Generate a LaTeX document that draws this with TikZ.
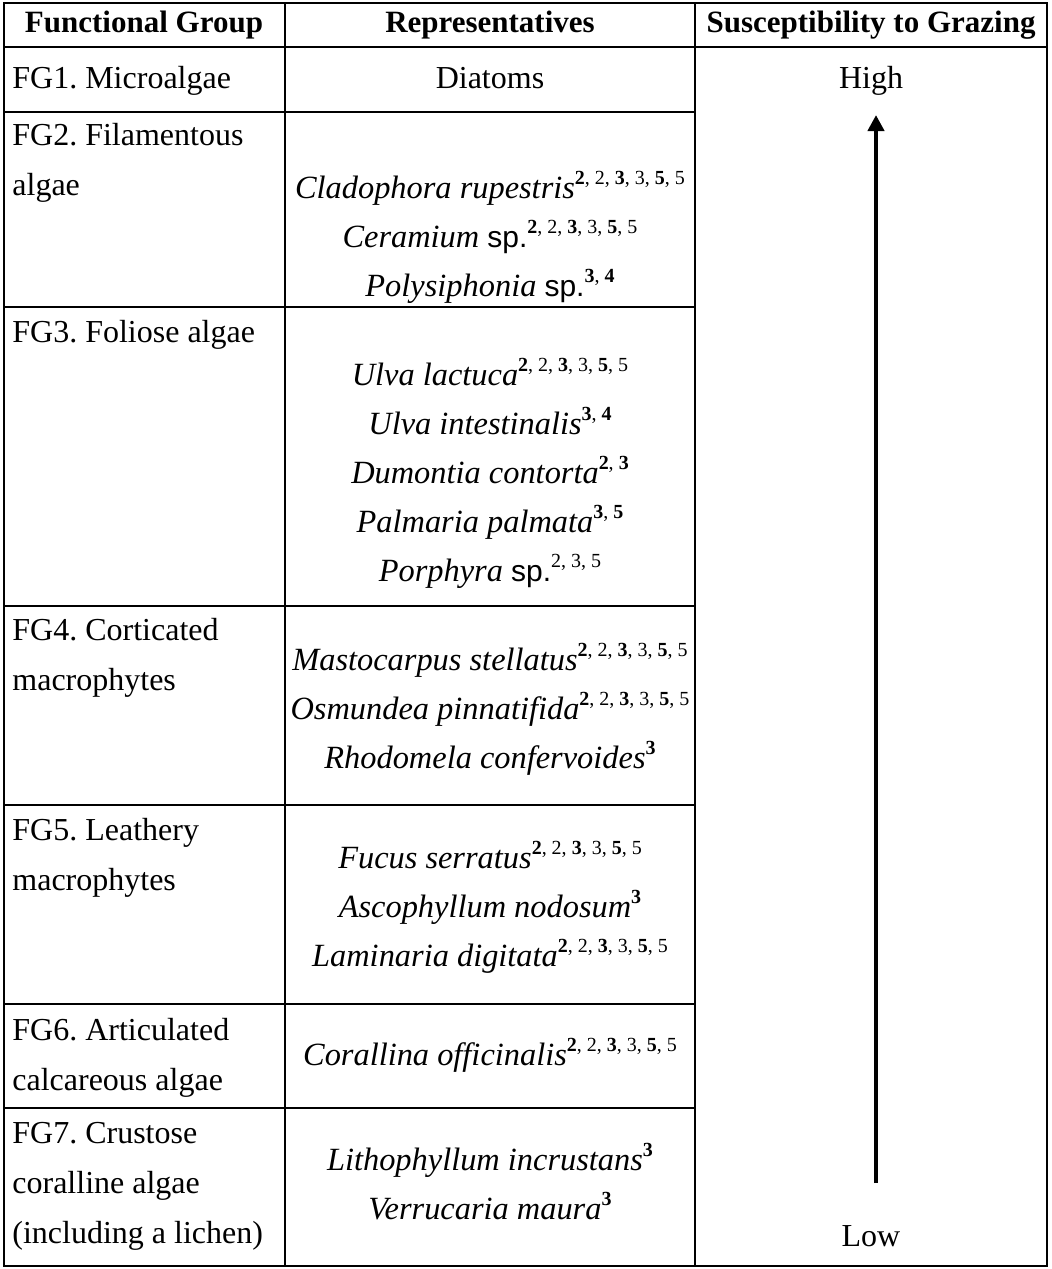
\documentclass[tikz,border=0pt]{standalone}
\usepackage{fontspec}
\setmainfont{Liberation Serif}
\newfontfamily\abbrfont{Liberation Sans}
\usepackage{tikz}
\usetikzlibrary{arrows.meta, positioning}

\newcommand{\refnote}[1]{\raisebox{7pt}{\fontsize{10}{10}\selectfont\upshape #1}}
\newcommand{\sixrefs}{\refnote{\textbf{2}, 2, \textbf{3}, 3, \textbf{5}, 5}}
\newcommand{\spabbr}{ {\upshape\abbrfont\fontsize{15}{15}\selectfont sp.}}

\tikzset{
  grp/.style={anchor=base west, align=left, inner sep=0pt, font=\fontsize{16}{25}\selectfont\frenchspacing},
  taxon/.style={anchor=base, align=center, inner sep=0pt, font=\fontsize{16.2}{24.5}\selectfont\itshape},
  head/.style={inner sep=0pt, font=\fontsize{15.5}{18}\selectfont\bfseries},
  level/.style={anchor=base, inner sep=0pt, font=\fontsize{16}{20}\selectfont},
  rule/.style={line width=1pt},
}

\begin{document}
\begin{tikzpicture}[x=0.5pt, y=-0.5pt]
    \useasboundingbox (0,0) rectangle (1052,1269);

    % table rules
    \draw[rule] (4,3) rectangle (1047,1266);
    \draw[rule] (4,47) -- (1047,47);
    \foreach \yy in {112,307,606,805,1004,1108}
        \draw[rule] (4,\yy) -- (695,\yy);
    \draw[rule] (285,3) -- (285,1266);
    \draw[rule] (695,3) -- (695,1266);

    % header
    \node[head] (hgroup) at (144,25) {Functional Group};
    \node[head] (hrep) at (490,25) {Representatives};
    \node[head] (hsusc) at (871,25) {Susceptibility to Grazing};

    % functional groups (placed at the baseline of the last line)
    \node[grp] (fg1) at (12,88) {FG1. Microalgae};
    \node[grp] (fg2) at (12,195) {FG2. Filamentous\\algae};
    \node[grp] (fg3) at (12,342) {FG3. Foliose algae};
    \node[grp] (fg4) at (12,690) {FG4. Corticated\\macrophytes};
    \node[grp] (fg5) at (12,890) {FG5. Leathery\\macrophytes};
    \node[grp] (fg6) at (12,1090) {FG6. Articulated\\calcareous algae};
    \node[grp] (fg7) at (12,1243) {FG7. Crustose\\coralline algae\\(including a lichen)};

    % representatives
    \node[level] (diatoms) at (490,88) {Diatoms};
    \node[taxon] (taxa2) at (490,296) {Cladophora rupestris\sixrefs\\
        Ceramium\spabbr\sixrefs\\
        Polysiphonia\spabbr\refnote{\textbf{3}, \textbf{4}}};
    \node[taxon] (taxa3) at (490,581) {Ulva lactuca\sixrefs\\
        Ulva intestinalis\refnote{\textbf{3}, \textbf{4}}\\
        Dumontia contorta\refnote{\textbf{2}, \textbf{3}}\\
        Palmaria palmata\refnote{\textbf{3}, \textbf{5}}\\
        Porphyra\spabbr\refnote{2, 3, 5}};
    \node[taxon] (taxa4) at (490,768) {Mastocarpus stellatus\sixrefs\\
        Osmundea pinnatifida\sixrefs\\
        Rhodomela confervoides\refnote{\textbf{3}}};
    \node[taxon] (taxa5) at (490,966) {Fucus serratus\sixrefs\\
        Ascophyllum nodosum\refnote{\textbf{3}}\\
        Laminaria digitata\sixrefs};
    \node[taxon] (taxa6) at (490,1065) {Corallina officinalis\sixrefs};
    \node[taxon] (taxa7) at (490,1219) {Lithophyllum incrustans\refnote{\textbf{3}}\\
        Verrucaria maura\refnote{\textbf{3}}};

    % grazing gradient
    \node[level] (high) at (871,88) {High};
    \node[level] (low) at (871,1246) {Low};
    \coordinate (gradlow) at (876,1183);
    \coordinate (gradhigh) at (876,115);
    \draw[-{Triangle[length=8pt,width=8pt]}, line width=2.2pt] (gradlow) -- (gradhigh);

\end{tikzpicture}
\end{document}
